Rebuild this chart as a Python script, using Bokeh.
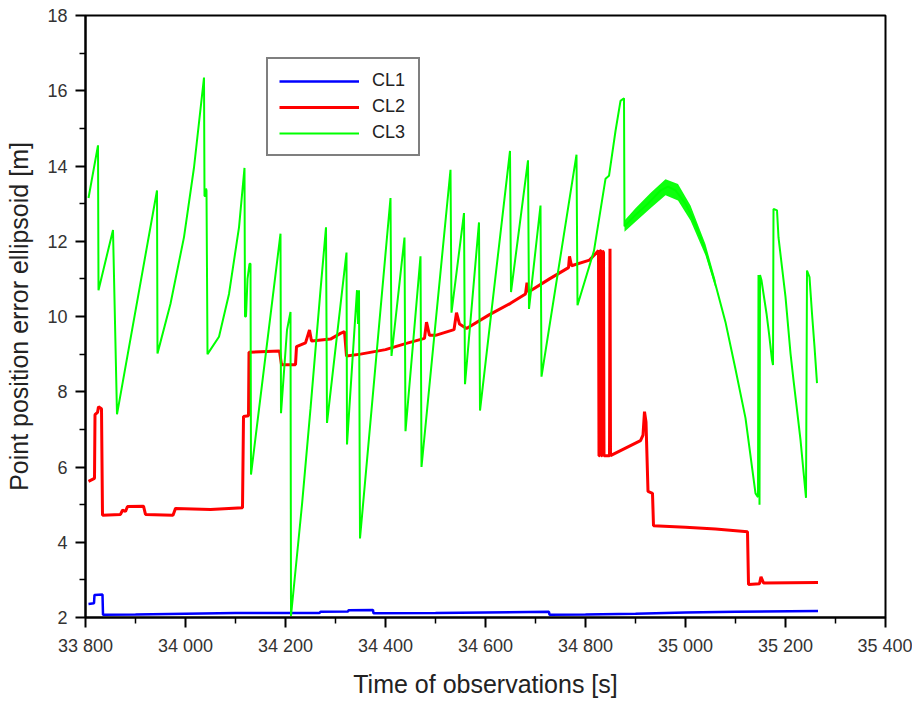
from bokeh.plotting import figure
from bokeh.models import FixedTicker, Legend, LegendItem
from bokeh.embed import file_html
from bokeh.resources import INLINE

# ---------------- data ----------------
cl1_t = [33806, 33817, 33818, 33834, 33835, 33900, 34000, 34100, 34268, 34270,
         34325, 34326, 34375, 34376, 34500, 34727, 34728, 34800, 34900, 35000,
         35100, 35265]
cl1_v = [2.36, 2.38, 2.60, 2.61, 2.07, 2.08, 2.10, 2.12, 2.12, 2.15,
         2.16, 2.19, 2.20, 2.11, 2.12, 2.15, 2.07, 2.08, 2.10, 2.13,
         2.15, 2.17]

cl2_t = [33806, 33818, 33819, 33824, 33826, 33832, 33834, 33870, 33874, 33880,
         33884, 33916, 33920, 33975, 33980, 34050, 34114, 34116, 34126, 34127,
         34188, 34192, 34220, 34222, 34240, 34248, 34252, 34290, 34310, 34318,
         34322, 34350, 34400, 34440, 34478, 34482, 34488, 34500, 34537, 34542,
         34548, 34562, 34608, 34650, 34680, 34683, 34686, 34728, 34766, 34768,
         34772, 34808, 34826, 34827, 34828, 34829, 34831, 34832, 34833, 34834,
         34836, 34837, 34848, 34849, 34850, 34880, 34910, 34915, 34918, 34921,
         34925, 34934, 34936, 35000, 35060, 35124, 35126, 35148, 35151, 35156,
         35265]
cl2_v = [5.62, 5.70, 7.39, 7.45, 7.60, 7.55, 4.72, 4.74, 4.85, 4.82,
         4.95, 4.96, 4.74, 4.72, 4.90, 4.87, 4.92, 7.34, 7.36, 9.05,
         9.08, 8.72, 8.72, 9.20, 9.30, 9.64, 9.35, 9.40, 9.55, 9.60,
         8.95, 9.00, 9.12, 9.28, 9.42, 9.85, 9.50, 9.50, 9.65, 10.10,
         9.80, 9.68, 10.05, 10.35, 10.60, 10.90, 10.65, 11.00, 11.30, 11.60,
         11.35, 11.50, 11.75, 6.30, 6.30, 11.75, 11.75, 6.30, 6.30, 11.75,
         11.70, 6.30, 6.30, 11.80, 6.30, 6.50, 6.70, 6.85, 7.47, 7.20,
         5.35, 5.30, 4.44, 4.40, 4.35, 4.28, 2.88, 2.90, 3.08, 2.92,
         2.93]

cl3_t = [33806, 33825, 33826, 33855, 33863, 33943, 33944, 33970, 33997, 34017,
         34037, 34038, 34040, 34041, 34042, 34044, 34067, 34087, 34107, 34118,
         34119, 34121, 34124, 34128, 34130, 34131, 34190, 34191, 34203, 34210,
         34211, 34233, 34250, 34270, 34281, 34283, 34322, 34323, 34343, 34345,
         34347, 34349, 34410, 34412, 34438, 34440, 34470, 34472, 34530, 34532,
         34557, 34559, 34587, 34589, 34649, 34651, 34685, 34687, 34710, 34712,
         34782, 34784, 34817, 34840, 34847, 34860, 34870, 34877, 34878, 34900,
         34925, 34950, 34965, 34980, 35000, 35020, 35040, 35060, 35080, 35100,
         35120, 35140, 35145, 35146, 35148, 35149, 35152, 35162, 35167, 35173,
         35175, 35176, 35183, 35186, 35193, 35200, 35210, 35216, 35223, 35230,
         35235, 35241, 35243, 35248, 35253, 35258, 35263]
cl3_v = [13.15, 14.55, 10.70, 12.30, 7.40, 13.35, 9.02, 10.34, 12.11, 13.96,
         16.35, 13.20, 13.20, 13.40, 13.35, 9.00, 9.46, 10.60, 12.37, 13.95,
         10.00, 10.00, 11.00, 11.40, 11.40, 5.80, 12.20, 7.43, 9.64, 10.12,
         2.04, 5.00, 7.55, 10.70, 12.37, 7.17, 11.70, 6.60, 10.70, 9.80,
         10.70, 4.10, 13.15, 8.95, 12.10, 6.95, 11.60, 6.00, 13.90, 10.10,
         12.75, 8.20, 12.50, 7.50, 14.40, 10.65, 14.15, 10.20, 12.95, 8.40,
         14.30, 10.30, 11.75, 13.66, 13.74, 14.93, 15.73, 15.80, 12.40, 12.70,
         13.00, 13.35, 13.45, 13.35, 13.00, 12.45, 11.75, 10.85, 9.85, 8.60,
         7.30, 5.30, 5.20, 11.10, 5.00, 11.10, 10.96, 10.08, 9.55, 8.84,
         8.71, 12.86, 12.82, 12.10, 11.31, 10.52, 9.02, 8.31, 7.52, 6.72,
         6.02, 5.18, 11.22, 11.05, 10.08, 9.20, 8.23]

# thick oscillating band of CL3 around the hump
band_t = [34878, 34900, 34930, 34960, 34985, 35010, 35040, 35060]
band_lo = [12.25, 12.52, 12.88, 13.22, 13.08, 12.55, 11.62, 10.75]
band_hi = [12.55, 12.88, 13.28, 13.65, 13.52, 12.95, 11.92, 10.97]

x_ticks = [33800, 34000, 34200, 34400, 34600, 34800, 35000, 35200, 35400]
x_tick_labels = ["33 800", "34 000", "34 200", "34 400", "34 600",
                 "34 800", "35 000", "35 200", "35 400"]
x_minor = [33900, 34100, 34300, 34500, 34700, 34900, 35100, 35300]
y_ticks = [2, 4, 6, 8, 10, 12, 14, 16, 18]
y_minor = [3, 5, 7, 9, 11, 13, 15, 17]

series_names = ["CL1", "CL2", "CL3"]
series_colors = ["#0000ff", "#ff0000", "#00ff00"]

FONT = "Liberation Sans"

W, H = 912, 700
p = figure(width=W, height=H, x_range=(33800, 35400), y_range=(2, 18),
           output_backend="svg", toolbar_location=None,
           min_border_left=85, min_border_top=15, min_border_right=W - 885,
           min_border_bottom=H - 618)

p.xgrid.visible = False
p.ygrid.visible = False
p.background_fill_color = "white"
p.border_fill_color = "white"
p.outline_line_color = "black"
p.outline_line_width = 2
p.outline_line_alpha = 1.0

p.xaxis.ticker = FixedTicker(ticks=x_ticks, minor_ticks=x_minor)
p.xaxis.major_label_overrides = {t: l for t, l in zip(x_ticks, x_tick_labels)}
p.yaxis.ticker = FixedTicker(ticks=y_ticks, minor_ticks=y_minor)

for ax in (p.xaxis[0], p.yaxis[0]):
    ax.axis_line_color = "black"
    ax.axis_line_width = 2
    ax.major_tick_line_color = "black"
    ax.major_tick_line_width = 2
    ax.minor_tick_line_color = "black"
    ax.minor_tick_line_width = 1.5
    ax.major_tick_in = 0
    ax.major_tick_out = 10
    ax.minor_tick_in = 0
    ax.minor_tick_out = 6
    ax.major_label_text_font = FONT
    ax.major_label_text_font_size = "18px"
    ax.major_label_text_color = "#333333"
    ax.major_label_standoff = 8
    ax.axis_label_text_font = FONT
    ax.axis_label_text_font_size = "25px"
    ax.axis_label_text_font_style = "normal"
    ax.axis_label_text_color = "#222222"

p.xaxis.axis_label = "Time of observations [s]"
p.yaxis.axis_label = "Point position error ellipsoid [m]"
p.xaxis.axis_label_standoff = 11
p.yaxis.axis_label_standoff = 11

r1 = p.line(cl1_t, cl1_v, line_color=series_colors[0], line_width=2.5)
r2 = p.line(cl2_t, cl2_v, line_color=series_colors[1], line_width=3)
p.varea(x=band_t, y1=band_lo, y2=band_hi, fill_color=series_colors[2], fill_alpha=0.95)
r3 = p.line(cl3_t, cl3_v, line_color=series_colors[2], line_width=2)

legend = Legend(items=[LegendItem(label=series_names[i], renderers=[r])
                       for i, r in enumerate([r1, r2, r3])],
                location=(181, 461), orientation="vertical",
                glyph_width=80, glyph_height=20, label_height=20,
                label_width=35, label_standoff=13, spacing=5, padding=11,
                margin=0, border_line_color="black", border_line_width=2,
                background_fill_color="white", background_fill_alpha=1.0,
                label_text_font=FONT, label_text_font_size="18px",
                label_text_color="#222222")
p.add_layout(legend)

open("out.html", "w").write(file_html(p, INLINE))
